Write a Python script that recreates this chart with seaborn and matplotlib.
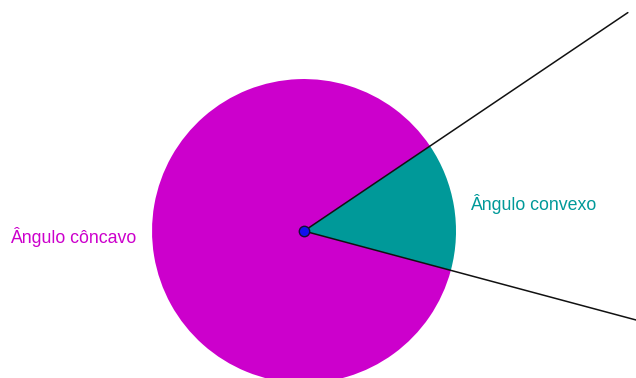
import numpy as np
import matplotlib
matplotlib.use('Agg')
import matplotlib.pyplot as plt
from matplotlib.patches import Wedge
import seaborn as sns

# angle data (degrees) and geometry in units of the circle radius
convex_start = -15.0
convex_end = 34.0
radius = 1.0
ray_length = 2.57
labels = ['Ângulo côncavo', 'Ângulo convexo']
colors = ['#CC00CC', '#009999']

sns.set_style('white')
plt.rcParams['font.family'] = ['Liberation Sans', 'DejaVu Sans']

fig = plt.figure(figsize=(6.36, 3.78), dpi=100)
ax = fig.add_axes([0, 0, 1, 1])
ax.set_xlim(-2.0, 2.184)
ax.set_ylim(-0.967, 1.52)
ax.set_aspect('equal')
ax.axis('off')

# concave (reflex) part and convex part
ax.add_patch(Wedge((0, 0), radius, convex_end, convex_start + 360, color=colors[0], lw=0))
ax.add_patch(Wedge((0, 0), radius, convex_start, convex_end, color=colors[1], lw=0))

# rays
for a in [convex_start, convex_end]:
    t = np.deg2rad(a)
    ax.plot([0, ray_length * np.cos(t)], [0, ray_length * np.sin(t)], color='#111111', lw=1.1)

# vertex
ax.plot([0], [0], 'o', markersize=7.5, markerfacecolor='#1010EE', markeredgecolor='#111133', markeredgewidth=1)

ax.text(-1.935, -0.04, labels[0], color=colors[0], fontsize=12.8, va='center', ha='left')
ax.text(1.092, 0.18, labels[1], color=colors[1], fontsize=12.8, va='center', ha='left')

fig.savefig('out.png', dpi=100)
